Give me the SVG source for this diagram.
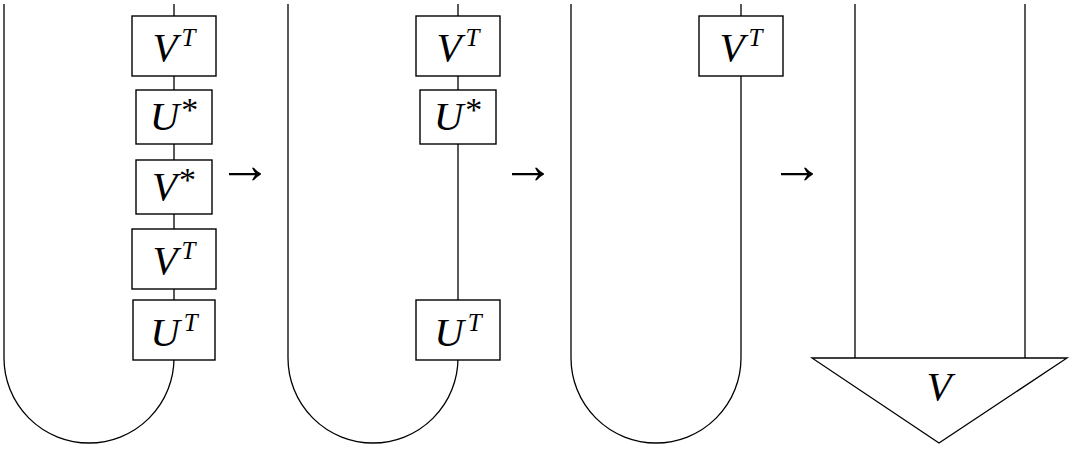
<svg xmlns="http://www.w3.org/2000/svg" width="1072" height="476" viewBox="0 0 1072 476">
<style>
  .wire { fill: none; stroke: #000; stroke-width: 1.3; }
  .box { fill: #fff; stroke: #000; stroke-width: 1.4; }
  .tri { fill: #fff; stroke: #000; stroke-width: 1.3; stroke-linejoin: miter; }
  .lbl { font-family: "Liberation Serif", "Times New Roman", serif; font-size: 41px; font-style: italic; fill: #000; }
  .sup { font-size: 25px; }
  .ast { font-size: 34px; font-style: normal; }
  .arr { font-family: "Liberation Serif", "DejaVu Serif", serif; font-size: 54px; fill: #000; }
</style>
<rect width="1072" height="476" fill="#fff"/>

<g id="connectors">
  <path class="wire" d="M4,4 V358 A85,85 0 0 0 174,358 V4"/>
  <path class="wire" d="M288,4 V358 A85,85 0 0 0 458,358 V4"/>
  <path class="wire" d="M571,4 V358 A85,85 0 0 0 741,358 V4"/>
  <path class="wire" d="M855,4 V358"/>
  <path class="wire" d="M1025,4 V358"/>
</g>

<g id="p1-VT1">
  <rect class="box" x="132" y="16" width="84" height="60"/>
  <text class="lbl" x="174" y="61" text-anchor="middle">V<tspan class="sup" dx="4" dy="-15">T</tspan></text>
</g>
<g id="p1-Ustar">
  <rect class="box" x="136" y="90" width="76" height="54"/>
  <text class="lbl" x="174" y="130" text-anchor="middle">U<tspan class="ast" dx="2" dy="-9">*</tspan></text>
</g>
<g id="p1-Vstar">
  <rect class="box" x="136" y="160" width="76" height="54"/>
  <text class="lbl" x="174" y="200" text-anchor="middle">V<tspan class="ast" dx="2" dy="-9">*</tspan></text>
</g>
<g id="p1-VT2">
  <rect class="box" x="132" y="229" width="84" height="60"/>
  <text class="lbl" x="174" y="274" text-anchor="middle">V<tspan class="sup" dx="4" dy="-15">T</tspan></text>
</g>
<g id="p1-UT">
  <rect class="box" x="133" y="300" width="82" height="60"/>
  <text class="lbl" x="174" y="346" text-anchor="middle">U<tspan class="sup" dx="4" dy="-15">T</tspan></text>
</g>

<g id="arrow1"><text class="arr" x="245" y="183" text-anchor="middle">→</text></g>

<g id="p2-VT">
  <rect class="box" x="416" y="16" width="84" height="60"/>
  <text class="lbl" x="458" y="61" text-anchor="middle">V<tspan class="sup" dx="4" dy="-15">T</tspan></text>
</g>
<g id="p2-Ustar">
  <rect class="box" x="420" y="90" width="76" height="54"/>
  <text class="lbl" x="458" y="130" text-anchor="middle">U<tspan class="ast" dx="2" dy="-9">*</tspan></text>
</g>
<g id="p2-UT">
  <rect class="box" x="416" y="300" width="84" height="60"/>
  <text class="lbl" x="458" y="346" text-anchor="middle">U<tspan class="sup" dx="4" dy="-15">T</tspan></text>
</g>

<g id="arrow2"><text class="arr" x="528" y="183" text-anchor="middle">→</text></g>

<g id="p3-VT">
  <rect class="box" x="699" y="16" width="84" height="60"/>
  <text class="lbl" x="741" y="61" text-anchor="middle">V<tspan class="sup" dx="4" dy="-15">T</tspan></text>
</g>

<g id="arrow3"><text class="arr" x="797" y="183" text-anchor="middle">→</text></g>

<g id="p4-V">
  <polygon class="tri" points="812,358 1067,358 939,443"/>
  <text class="lbl" x="939" y="400" text-anchor="middle">V</text>
</g>
</svg>
